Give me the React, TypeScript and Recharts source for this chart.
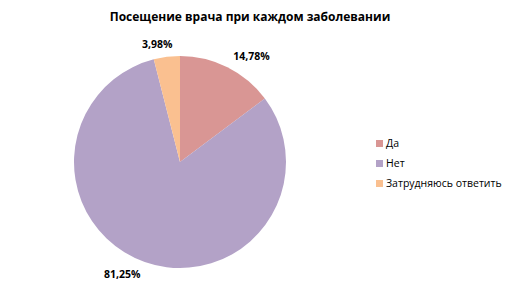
import { PieChart, Pie, Cell } from 'recharts';

const categories = ['Да', 'Нет', 'Затрудняюсь ответить'];
const shares = [14.78, 81.25, 3.98];
const colors = ['#D99694', '#B3A2C7', '#FAC090'];

const data = categories.map((name, i) => ({ name, value: shares[i] }));

const FONT = '"Open Sans", "DejaVu Sans", sans-serif';
const RADIAN = Math.PI / 180;

function renderLabel(props: any) {
  const { cx, cy, outerRadius, midAngle, value } = props;
  const r = outerRadius + 13;
  const cos = Math.cos(-midAngle * RADIAN);
  const sin = Math.sin(-midAngle * RADIAN);
  const x = cx + r * cos;
  const y = cy + r * sin;
  // подпись снаружи, выравнивание по стороне
  let anchor: 'start' | 'end' | 'middle' = cos >= 0 ? 'start' : 'end';
  let dx = 0;
  if (Math.abs(cos) < 0.3 && sin < 0) {
    anchor = 'middle';
    dx = -8;
  }
  return (
    <text
      x={x + dx}
      y={y}
      textAnchor={anchor}
      dominantBaseline="central"
      fontFamily={FONT}
      fontSize={10.5}
      fontWeight="bold"
      fill="#000"
    >
      {value.toFixed(2).replace('.', ',')}%
    </text>
  );
}

function LegendBox() {
  return (
    <div
      style={{
        position: 'absolute',
        left: 376,
        top: 133,
        fontFamily: FONT,
        fontSize: 10.5,
        color: '#000',
      }}
    >
      {categories.map((c, i) => (
        <div
          key={c}
          style={{ display: 'flex', alignItems: 'center', height: 20 }}
        >
          <span
            style={{
              display: 'inline-block',
              width: 7,
              height: 7,
              background: colors[i],
              marginRight: 3,
            }}
          />
          <span>{c}</span>
        </div>
      ))}
    </div>
  );
}

export default function App() {
  return (
    <div
      style={{
        position: 'absolute',
        left: 0,
        top: 0,
        width: 507,
        height: 297,
        background: '#fff',
      }}
    >
      <div
        style={{
          position: 'absolute',
          top: 8,
          left: 0,
          width: 500,
          textAlign: 'center',
          fontFamily: FONT,
          fontSize: 12,
          fontWeight: 'bold',
          color: '#000',
        }}
      >
        Посещение врача при каждом заболевании
      </div>
      <PieChart
        width={507}
        height={297}
        margin={{ top: 0, right: 0, bottom: 0, left: 0 }}
      >
        <Pie
          data={data}
          dataKey="value"
          nameKey="name"
          cx={180}
          cy={162}
          outerRadius={106}
          startAngle={90}
          endAngle={-270}
          stroke="none"
          label={renderLabel}
          labelLine={false}
          isAnimationActive={false}
        >
          {data.map((d, i) => (
            <Cell key={d.name} fill={colors[i]} />
          ))}
        </Pie>
      </PieChart>
      <LegendBox />
    </div>
  );
}
